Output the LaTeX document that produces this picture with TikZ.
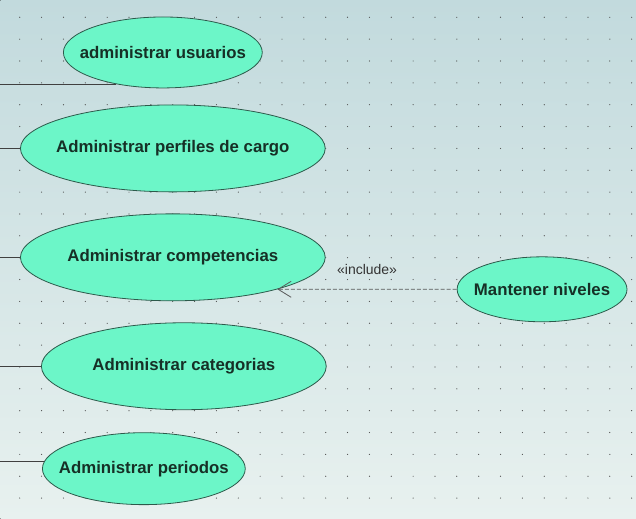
\documentclass[tikz,border=0pt]{standalone}
\usepackage{fontspec}
\setmainfont{Liberation Sans}
\usetikzlibrary{shapes.geometric,arrows.meta}
\definecolor{ucfill}{RGB}{108,246,200}
\definecolor{ucline}{RGB}{45,90,75}
\definecolor{uctext}{RGB}{22,48,38}
\definecolor{bgtop}{RGB}{194,218,221}
\definecolor{bgbottom}{RGB}{232,241,239}
\newcommand{\uctxt}[1]{\makebox[0pt]{#1}}
\tikzset{
	usecase/.style={ellipse, draw=ucline, fill=ucfill, line width=0.8pt, inner sep=0pt, text=uctext, font=\fontsize{16.8}{20}\selectfont\bfseries},
	assoc/.style={draw=black!75, line width=0.9pt},
	incl/.style={draw=black!65, line width=0.8pt, dash pattern=on 4pt off 2pt, -{Straight Barb[length=13pt,width=16pt]}}
}
\begin{document}
\begin{tikzpicture}[x=1pt,y=-1pt]
		\fill[top color=bgtop, bottom color=bgbottom] (0,0) rectangle (636,519);
		\foreach \i in {0,1,2,...,28}{
			\foreach \j in {0,1,2,...,22}{
				\fill[black!70] (19.3+\i*21.87,17.3+\j*21.87) circle (0.6pt);
			}
		}
		\coordinate (edge) at (0,0);

		\node[usecase, minimum width=199pt, minimum height=71pt] (usuarios) at (162.5,52.5) {\uctxt{administrar usuarios}};
		\node[usecase, minimum width=305pt, minimum height=87pt] (perfiles) at (172.5,148.5) {\uctxt{Administrar perfiles de cargo}};
		\node[usecase, minimum width=305pt, minimum height=87pt] (competencias) at (172.5,257.5) {\uctxt{Administrar competencias}};
		\node[usecase, minimum width=285pt, minimum height=87pt] (categorias) at (183.5,366.5) {\uctxt{Administrar categorias}};
		\node[usecase, minimum width=203pt, minimum height=72pt] (periodos) at (143.5,469) {\uctxt{Administrar periodos}};
		\node[usecase, minimum width=170pt, minimum height=65pt] (niveles) at (542,289.5) {\uctxt{Mantener niveles}};

		\draw[assoc] (usuarios.214.5) -- (usuarios.214.5 -| edge);
		\draw[assoc] (perfiles.west) -- (perfiles.west -| edge);
		\draw[assoc] (competencias.west) -- (competencias.west -| edge);
		\draw[assoc] (categorias.west) -- (categorias.west -| edge);
		\draw[assoc] (periodos.176) -- (periodos.176 -| edge);

		\draw[incl] (niveles.west) -- node[above=14pt, inner sep=0pt, text=black!80, font=\fontsize{14}{16}\selectfont] {«include»} (competencias.343.4);
%		\node at (369,269) {include};
	\end{tikzpicture}
\end{document}
